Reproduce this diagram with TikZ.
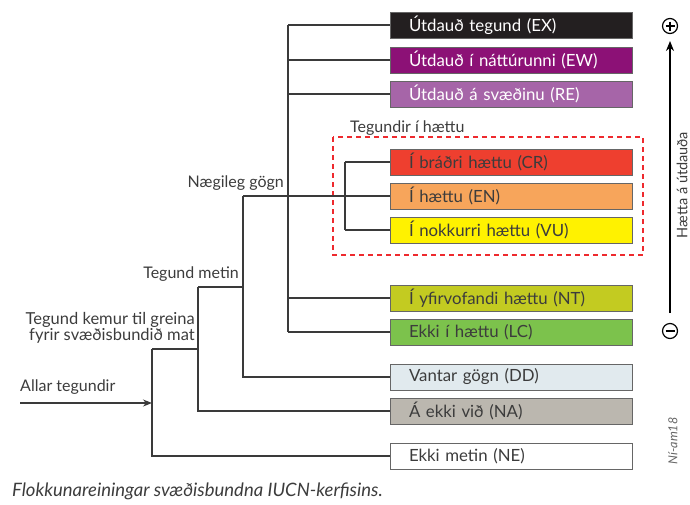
\documentclass[tikz,border=0pt]{standalone}
\usepackage{fontspec}
\setmainfont{Lato}
\usetikzlibrary{arrows.meta}
\definecolor{txt}{HTML}{3C3C3C}
\definecolor{ln}{HTML}{3A3A3A}
\definecolor{cEX}{HTML}{231F20}
\definecolor{cEW}{HTML}{8C1176}
\definecolor{cRE}{HTML}{A665A8}
\definecolor{cCR}{HTML}{EE3F2F}
\definecolor{cEN}{HTML}{F7A55B}
\definecolor{cVU}{HTML}{FFF200}
\definecolor{cNT}{HTML}{C3CB21}
\definecolor{cLC}{HTML}{7CC24C}
\definecolor{cDD}{HTML}{E1EAEE}
\definecolor{cNA}{HTML}{BBB7AF}
\definecolor{dred}{HTML}{EE2A2E}
\tikzset{
  cat/.style={draw=black!60, line width=1pt, minimum width=242pt, minimum height=26pt,
    inner sep=0pt, text width=204pt, align=left, font=\fontsize{16.8}{18}\selectfont, text=txt},
  lbl/.style={font=\fontsize{16}{14}\selectfont, text=txt, inner sep=0pt},
  tree/.style={draw=ln, line width=1.2pt},
}
\begin{document}
\begin{tikzpicture}[x=1pt,y=-1pt]
\useasboundingbox (0,0) rectangle (690,504);
% category boxes (center x = 511)
\node[cat, fill=cEX, text=white] (EX) at (511,25) {Útdauð tegund (EX)};
\node[cat, fill=cEW, text=white] (EW) at (511,60) {Útdauð í náttúrunni (EW)};
\node[cat, fill=cRE, text=white] (RE) at (511,94) {Útdauð á svæðinu (RE)};
\node[cat, fill=cCR] (CR) at (511,162) {Í bráðri hættu (CR)};
\node[cat, fill=cEN] (EN) at (511,196) {Í hættu (EN)};
\node[cat, fill=cVU] (VU) at (511,230) {Í nokkurri hættu (VU)};
\node[cat, fill=cNT] (NT) at (511,298) {Í yfirvofandi hættu (NT)};
\node[cat, fill=cLC] (LC) at (511,332) {Ekki í hættu (LC)};
\node[cat, fill=cDD] (DD) at (511,377) {Vantar gögn (DD)};
\node[cat, fill=cNA] (NA) at (511,411) {Á ekki við (NA)};
\node[cat, fill=white] (NE) at (511,456) {Ekki metin (NE)};
% threatened group
\draw[dred, line width=1.3pt, dash pattern=on 5pt off 4pt] (333,137) rectangle (643,255);
\node[lbl, anchor=west] (thr) at (350,128) {Tegundir í hættu};
% tree coordinates
\coordinate (t1) at (288,25);
\coordinate (t2) at (288,332);
\coordinate (b1) at (345,162);
\coordinate (b2) at (345,230);
\coordinate (g1) at (243,196);
\coordinate (g2) at (243,377);
\coordinate (m1) at (198,287);
\coordinate (m2) at (198,411);
\coordinate (k1) at (152,349);
\coordinate (k2) at (152,456);
\coordinate (a0) at (20,403);
\coordinate (a1) at (152,403);
% tree lines
\draw[tree] (t1) -- (t2);
\draw[tree] (t1) -- (EX.west);
\draw[tree] (288,60) -- (EW.west);
\draw[tree] (288,94) -- (RE.west);
\draw[tree] (288,298) -- (NT.west);
\draw[tree] (t2) -- (LC.west);
\draw[tree] (b1) -- (b2);
\draw[tree] (b1) -- (CR.west);
\draw[tree] (345,196) -- (EN.west);
\draw[tree] (b2) -- (VU.west);
\draw[tree] (g1) -- (345,196);
\draw[tree] (g1) -- (g2) -- (DD.west);
\draw[tree] (m1) -- (243,287);
\draw[tree] (m1) -- (m2) -- (NA.west);
\draw[tree] (k1) -- (198,349);
\draw[tree] (k1) -- (k2) -- (NE.west);
\draw[tree, -{Stealth[length=9pt,width=7pt]}] (a0) -- (a1);
% tree labels
\node[lbl, anchor=south east] (ng) at (284,191) {Nægileg gögn};
\node[lbl, anchor=south east] (tm) at (239,282) {Tegund metin};
\node[lbl, anchor=south east, align=right, font=\fontsize{16.5}{14}\selectfont] (tk) at (195,344) {Tegund kemur til greina\\fyrir svæðisbundið mat};
\node[lbl, anchor=south west] (at) at (20,395) {Allar tegundir};
% risk axis
\node[draw=black, circle, line width=1.2pt, minimum size=15pt, inner sep=0pt] (plus) at (670,26) {};
\draw[black, line width=1.2pt] (665.5,26) -- (674.5,26) (670,21.5) -- (670,30.5);
\node[draw=black, circle, line width=1.2pt, minimum size=15pt, inner sep=0pt] (minus) at (670,331) {};
\draw[black, line width=1.2pt] (665.5,331) -- (674.5,331);
\coordinate (ax0) at (670,313);
\coordinate (ax1) at (670,41);
\draw[black, line width=1.3pt, -{Stealth[length=10pt,width=8pt]}] (ax0) -- (ax1);
\node[lbl, rotate=90, font=\fontsize{14.5}{14}\selectfont] (risk) at (682,185) {Hætta á útdauða};
\node[lbl, rotate=90, font=\itshape\fontsize{12.5}{12}\selectfont, text=black!60] (cr) at (673,441) {Ní-am18};
% caption
\node[lbl, anchor=west, font=\itshape\fontsize{18.5}{18}\selectfont] (cap) at (12,491) {Flokkunareiningar svæðisbundna IUCN-kerfisins.};
\end{tikzpicture}
\end{document}
